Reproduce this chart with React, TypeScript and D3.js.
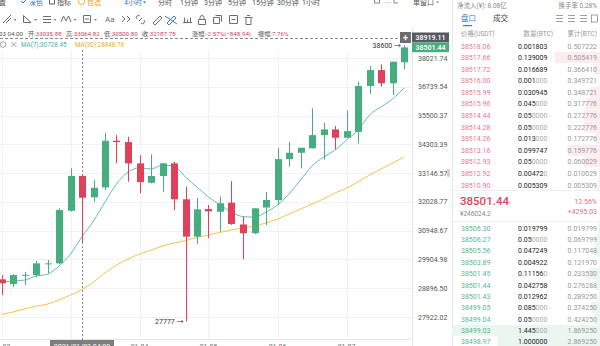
import React from 'react';
import * as d3 from 'd3';

const W = 600;
const H = 346;

// ---- candle data (4h, index 0..35) ----
const openP = [29204, 29041, 29328, 29352, 29741, 29766, 31693, 33035.88, 32205, 32586, 34450, 34397, 33534, 32768, 33032, 33534, 32128, 30728, 31757, 31655, 31998, 31178, 30853, 31815, 32101, 33703, 33960, 34140, 34683, 34918, 34573, 34818, 36775, 37478, 36893, 37827];
const highP = [29352, 29386, 29466, 29859, 29884, 31785, 33336, 33064.82, 32874, 34777, 34683, 34614, 33862, 33894, 33557, 33597, 32610, 32189, 31910, 32228, 32835, 31466, 31795, 32407, 34152, 34410, 34164, 35809, 35200, 35060, 35707, 36963, 37660, 37737, 37854, 38600];
const lowP = [28662, 28938, 29007, 29273, 29411, 29741, 31655, 30500.8, 32036, 32484, 33534, 32807, 32358, 32744, 32419, 31720, 27777, 30458, 30669, 30912, 31159, 29909, 30827, 31159, 31910, 33400, 33337, 34140, 33690, 34099, 34573, 34344, 36424, 36744, 36380, 37510];
const closeP = [29066, 29352, 29362, 29766, 29766, 31720, 33036.72, 32187.78, 32571, 34450, 34397, 33534, 32795, 33032, 33534, 32128, 30728, 31745, 31670, 31975, 31196, 30853, 31785, 32101, 33704, 33960, 34164, 34683, 34917, 34573, 34847, 36775, 37478, 36893, 37854, 38501.44];
const ma7 = [29110, 29145, 29179, 29317, 29386, 29670, 30097, 30728.45, 31307, 32025, 32716, 33190, 33348, 33309, 33467, 33427, 32993, 32598, 32216, 31910, 31643, 31471, 31452, 31643, 31910, 32331, 32874, 33427, 33784, 34070, 34479, 34888, 35526, 35864, 36205, 36687];
const ma30 = [28005, 28089, 28188, 28288, 28355, 28490, 28662, 28848.78, 29110, 29421, 29706, 29919, 30097, 30240, 30382, 30495, 30587, 30698, 30790, 30883, 30975, 31049, 31122, 31233, 31381, 31567, 31758, 31949, 32140, 32369, 32560, 32795, 33072, 33309, 33546, 33783];

const yTicks = [38021.74, 36739.54, 35500.37, 34303.39, 33146.57, 32028.77, 30948.67, 29904.98, 28896.5, 27922.02];
const dayLabels = ['01-02', '01-03', '01-04', '01-05', '01-06', '01-07'];
const dayIndex = [0, 6, 12, 18, 24, 30];
const crossIndex = 7;
const crossTime = '2021/01/03 04:00';
const crossTimeShort = '03 04:00';
const crossPrice = 38919.11;
const lastPrice = 38501.44;
const highMark = 38600;
const lowMark = 27777;
const lowMarkIndex = 16;

const periods = ['分时', '1分钟', '3分钟', '5分钟', '15分钟', '30分钟', '1小时'];

// ---- order book ----
const askPrice = ['38518.06', '38517.66', '38517.72', '38516.00', '38515.99', '38515.96', '38514.44', '38514.28', '38514.26', '38513.16', '38512.93', '38512.92', '38510.90'];
const askQty = [0.001803, 0.139009, 0.016689, 0.001, 0.030945, 0.045, 0.05, 0.05, 0.013, 0.099747, 0.05, 0.00472, 0.005309];
const askCum = ['0.507222', '0.505419', '0.366410', '0.349721', '0.348721', '0.317776', '0.272776', '0.222776', '0.172776', '0.159776', '0.060029', '0.010029', '0.005309'];
const bidPrice = ['38506.30', '38506.27', '38505.56', '38503.89', '38501.45', '38501.44', '38501.43', '38499.05', '38499.04', '38499.03', '38498.97'];
const bidQty = [0.019799, 0.05, 0.047249, 0.004922, 0.11156, 0.042758, 0.012962, 0.085, 0.05, 1.445, 1.0];
const bidCum = ['0.019799', '0.069799', '0.117048', '0.121970', '0.233530', '0.276288', '0.289250', '0.374250', '0.424250', '1.869250', '2.869250'];
const midCny = '¥246024.2';
const midPct = '12.56%';
const midChg = '+4295.03';

const UP = '#45ad7e';
const DOWN = '#e0405a';
const NUM = "Roboto, 'Noto Sans CJK SC', sans-serif";

function splitQty(q: number) {
  const s = q.toFixed(6);
  const t = s.replace(/0+$/, '');
  if (t.endsWith('.')) return [s, ''];
  return [t, s.slice(t.length)];
}

const Caret = ({ x, y, c = '#888' }: { x: number; y: number; c?: string }) => (
  <path d={`M${x},${y} l3,0 l-1.5,2 z`} fill={c} />
);

export default function App() {
  const x = d3.scaleLinear().domain([0, 35]).range([1.5, 404]);
  const y = d3.scaleLog().domain([27922.02, 38021.74]).range([317, 58]);
  const bw = 7;
  const line = d3
    .line<number>()
    .x((_, i) => x(i))
    .y((d) => y(d))
    .curve(d3.curveMonotoneX);

  const o = openP[crossIndex];
  const h = highP[crossIndex];
  const l = lowP[crossIndex];
  const c = closeP[crossIndex];
  const prev = closeP[crossIndex - 1];
  const chg = c - prev;
  const pct = (chg / prev) * 100;
  const amp = ((h - l) / prev) * 100;
  const f2 = d3.format('.2f');
  const hdrCol = chg >= 0 ? UP : DOWN;

  const askBar = d3.scaleLinear().domain([0, d3.max(askQty) as number]).range([0, 45]);
  const bidBar = d3.scaleLinear().domain([0, d3.max(bidQty) as number]).range([0, 148]);
  const askY = d3.scaleLinear().domain([0, askPrice.length - 1]).range([46, 185]);
  const bidY = d3.scaleLinear().domain([0, bidPrice.length - 1]).range([228.3, 341.7]);

  const hdrItems: [string, string, number][] = [
    ['开:', f2(o), 28],
    ['高:', f2(h), 66],
    ['低:', f2(l), 104],
    ['收:', f2(c), 142],
    ['涨幅:', `${pct.toFixed(2)}%(${f2(chg)})`, 192],
    ['振幅:', `${amp.toFixed(2)}%`, 258],
  ];

  const periodX = [158, 180, 204, 228, 252, 277, 302];
  const gray = '#6e6e6e';
  const crossX = x(crossIndex);

  return (
    <svg width={W} height={H} style={{ position: 'absolute', left: 0, top: 0, background: '#fff' }} fontFamily={NUM}>
      <defs>
        <clipPath id="plot">
          <rect x={0} y={28} width={412} height={312} />
        </clipPath>
      </defs>
      <rect x={0} y={0} width={W} height={H} fill="#fff" />

      {/* grid */}
      <g stroke="#f1f1f1" strokeWidth={1}>
        {yTicks.map((t) => (
          <line key={t} x1={0} x2={412} y1={Math.round(y(t)) + 0.5} y2={Math.round(y(t)) + 0.5} />
        ))}
        {dayIndex.map((i) => (
          <line key={i} x1={Math.round(x(i)) + 0.5} x2={Math.round(x(i)) + 0.5} y1={50} y2={339} />
        ))}
      </g>
      <line x1={412.5} x2={412.5} y1={28} y2={346} stroke="#e6e6e6" />
      <line x1={0} x2={412} y1={339.5} y2={339.5} stroke="#e6e6e6" />

      {/* y axis labels */}
      <g fontSize={7} fill="#555">
        {yTicks.map((t) => (
          <text key={t} x={418} y={y(t) + 2.5}>
            {f2(t)}
          </text>
        ))}
      </g>
      <rect x={447} y={169} width={3} height={8} rx={1} fill="#d0d0d0" />

      {/* x axis labels (cut off at the bottom edge, hidden under the crosshair badge) */}
      <g fontSize={7} fill="#777" textAnchor="middle">
        {dayIndex.map((i, k) =>
          Math.abs(x(i) - crossX) < 40 ? null : (
            <text key={i} x={x(i)} y={348.5}>
              {dayLabels[k]}
            </text>
          )
        )}
      </g>

      <g clipPath="url(#plot)">
        {/* MA lines */}
        <path d={line(ma30) || ''} fill="none" stroke="#f2c24e" strokeWidth={1} />
        <path d={line(ma7) || ''} fill="none" stroke="#62bdb6" strokeWidth={1} />

        {/* crosshair */}
        <line x1={Math.round(crossX) + 0.5} x2={Math.round(crossX) + 0.5} y1={50} y2={340} stroke="#8a8a8a" strokeDasharray="2,2" />
        <line x1={0} x2={400} y1={Math.round(y(crossPrice)) + 0.5} y2={Math.round(y(crossPrice)) + 0.5} stroke="#8a8a8a" strokeDasharray="3,2" />

        {/* candles */}
        {openP.map((op, i) => {
          const cl = closeP[i];
          const up = cl >= op;
          const col = up ? UP : DOWN;
          const cx = Math.round(x(i)) + 0.5;
          const top = y(Math.max(op, cl));
          const bot = y(Math.min(op, cl));
          return (
            <g key={i}>
              <line x1={cx} x2={cx} y1={y(highP[i])} y2={y(lowP[i])} stroke={col} strokeWidth={1} />
              <rect x={cx - bw / 2} y={top} width={bw} height={Math.max(1, bot - top)} fill={col} />
            </g>
          );
        })}
      </g>

      {/* high / low markers */}
      <text x={x(35) - 3} y={y(highMark) + 2.5} fontSize={7} fill="#333" textAnchor="end">
        {`${highMark} →`}
      </text>
      <text x={x(lowMarkIndex) - 2} y={y(lowMark) + 2.5} fontSize={7} fill="#333" textAnchor="end">
        {`${lowMark} →`}
      </text>

      {/* price badges */}
      <rect x={400} y={32} width={11} height={11} fill="#6d6d6d" />
      <text x={405.5} y={40.5} fontSize={9} fill="#fff" textAnchor="middle" fontWeight={700}>
        +
      </text>
      <rect x={412} y={32.5} width={37} height={10} fill="#555a60" />
      <text x={430.5} y={40} fontSize={7} fill="#fff" textAnchor="middle" fontWeight={600}>
        {f2(crossPrice)}
      </text>
      <rect x={412} y={y(lastPrice) - 4.8} width={37} height={9.5} fill={UP} />
      <text x={430.5} y={y(lastPrice) + 2.4} fontSize={7} fill="#fff" textAnchor="middle" fontWeight={600}>
        {f2(lastPrice)}
      </text>

      {/* crosshair time badge */}
      <rect x={crossX - 32} y={340} width={64} height={8} fill="#7d7d7d" />
      <text x={crossX} y={348.5} fontSize={7} fill="#fff" textAnchor="middle">
        {crossTime}
      </text>

      {/* ---- header row 1 (cut off) ---- */}
      <g fontSize={7}>
        <text x={-8} y={4.5} fill="#555">设置</text>
        <path d="M21,1 l2,2 l4,-4" stroke="#3a7bd5" fill="none" strokeWidth={1} />
        <text x={29} y={4.5} fill="#3a7bd5">深色</text>
        <rect x={49.5} y={-2} width={5} height={6} fill="none" stroke="#666" />
        <text x={57} y={4.5} fill="#555">指标</text>
        <circle cx={81.5} cy={1.5} r={3} fill="none" stroke="#f0a52a" />
        <text x={87} y={4.5} fill="#f0a52a">自选</text>
        <text x={124} y={4.5} fill="#3a7bd5">4小时</text>
        <Caret x={143} y={1.5} c="#3a7bd5" />
        {periods.map((p, i) => (
          <text key={p} x={periodX[i]} y={4.5} fill="#555">
            {p}
          </text>
        ))}
        <rect x={374.5} y={-2} width={5} height={5} fill="none" stroke="#888" />
        <text x={384} y={4.5} fill="#888">⋯</text>
        <path d="M394,-1 l0,4 l4,0" stroke="#888" fill="none" />
        <text x={413} y={4.5} fill="#555">单窗口</text>
        <Caret x={436} y={1.5} />
      </g>

      {/* ---- header row 2: drawing tools ---- */}
      <g stroke={gray} fill="none" strokeWidth={1}>
        <path d="M3,23 L11,15 M6,23 L11,18" />
        <path d="M23.5,15.5 L23.5,22.5 L31,22.5 Z" />
        <path d="M43,16.5 h8 M43,19.5 h8 M43,22.5 h8" />
        <path d="M61,22 L63.5,16 L66,21 L68.5,16 L71,22" />
        <path d="M83.5,15.5 h7 v7 h-7 z M85,19 h4" />
        <path d="M122,16 l3,3 l-3,3 M127,16 l3,3 l-3,3" />
        <path d="M139,21 l3,-3 M137,19 a2,2 0 0 1 3,-3 M144,20 a2,2 0 0 1 -3,3" />
        <path d="M153,23 L160,16 L162,18 L155,25 Z" />
        <path d="M167,23 L174,16 L176,18 L169,25 Z M165,16 L177,24" stroke="#3a7bd5" />
        <path d="M183,22.5 h9 M184.5,22.5 v-5 M187.5,22.5 v-3 M190.5,22.5 v-5" />
        <path d="M198.5,19.5 h7 v5 h-7 z M200,19.5 v-2 a2,2 0 0 1 4,0 v2" />
        <path d="M213.5,17.5 h6 v6 h-6 z M215.5,15.5 h6 v6" />
        <path d="M229.5,15.5 h8 v8 h-8 z M231.5,19.5 h4" />
        <path d="M244.5,17.5 h8 M246,17.5 v7 h5 v-7 M247,15.5 h3" />
      </g>
      <text x={105} y={22} fontSize={8} fill={gray}>Aa</text>
      <Caret x={13.5} y={19} />
      <Caret x={34} y={19} />
      <Caret x={53.5} y={19} />
      <Caret x={73.5} y={19} />
      <Caret x={94} y={19} />

      {/* ---- header row 3: OHLC ---- */}
      <g fontSize={6.2}>
        <text x={-1} y={35.5} fill="#555">{crossTimeShort}</text>
        {hdrItems.map(([lab, val, lx]) => (
          <text key={lab} x={lx} y={35.5} fill="#555">
            {lab}
            <tspan fill={hdrCol}>{val}</tspan>
          </text>
        ))}
      </g>

      {/* ---- header row 4: MA legend ---- */}
      <circle cx={3} cy={44.5} r={2.8} fill="none" stroke="#888" strokeWidth={0.8} />
      <path d="M11.5,42 l5,5 M16.5,42 l-5,5" stroke="#888" strokeWidth={0.8} />
      <text x={21} y={47} fontSize={6.3} fill="#3fb6aa">{`MA(7):${f2(ma7[crossIndex])}`}</text>
      <text x={75} y={47} fontSize={6.3} fill="#eaa92a">{`MA(30):${f2(ma30[crossIndex])}`}</text>

      {/* ---- right panel ---- */}
      <line x1={452.5} x2={452.5} y1={0} y2={H} stroke="#e8e8e8" />
      <g fontSize={6.5} fill="#888">
        <text x={457} y={7.5}>净流入(¥): 8.08亿</text>
        <text x={597} y={7.5} textAnchor="end">换手率 0.28%</text>
      </g>
      <text x={461} y={21} fontSize={7.5} fill="#3a7bd5">盘口</text>
      <rect x={463} y={25} width={9} height={1.2} fill="#3a7bd5" />
      <text x={493} y={21} fontSize={7.5} fill="#444">成交</text>
      <g stroke="#888" strokeWidth={0.8}>
        {[556, 568, 580].map((ix) => (
          <path key={ix} d={`M${ix},15.5 h7 M${ix},18.5 h7 M${ix},21.5 h7`} />
        ))}
        <rect x={591.5} y={15} width={6} height={7} fill="none" />
      </g>
      <g fontSize={6.5} fill="#999">
        <text x={461} y={35.5}>价格(USDT)</text>
        <text x={553} y={35.5} textAnchor="end">数量(BTC)</text>
        <text x={597} y={35.5} textAnchor="end">累计(BTC)</text>
      </g>

      {/* asks */}
      {askPrice.map((p, i) => {
        const cy = askY(i);
        const [a, b] = splitQty(askQty[i]);
        const w = askBar(askQty[i]);
        return (
          <g key={p + i} fontSize={7}>
            <rect x={600 - w} y={cy - 5.5} width={w} height={11} fill="#fdecef" />
            <text x={461} y={cy + 2.5} fill="#e8788c">{p}</text>
            <text x={518} y={cy + 2.5} fill="#222">
              {a}
              <tspan fill="#aaa">{b}</tspan>
            </text>
            <text x={597} y={cy + 2.5} fill="#999" textAnchor="end">{askCum[i]}</text>
          </g>
        );
      })}

      {/* mid */}
      <line x1={453} x2={600} y1={190.5} y2={190.5} stroke="#eeeeee" />
      <line x1={453} x2={600} y1={221.5} y2={221.5} stroke="#eeeeee" />
      <text x={460} y={205} fontSize={11.5} fontWeight={500} fill="#e0435c">{f2(lastPrice)}</text>
      <text x={460} y={215.5} fontSize={6.5} fill="#888">{midCny}</text>
      <text x={597} y={203.5} fontSize={7} fill="#d77586" textAnchor="end">{midPct}</text>
      <text x={597} y={214} fontSize={7} fill="#d77586" textAnchor="end">{midChg}</text>

      {/* bids */}
      {bidPrice.map((p, i) => {
        const cy = bidY(i);
        const [a, b] = splitQty(bidQty[i]);
        const w = bidBar(bidQty[i]);
        return (
          <g key={p + i} fontSize={7}>
            <rect x={600 - w} y={cy - 5.5} width={w} height={11} fill="#eaf6f0" />
            <text x={461} y={cy + 2.5} fill="#56b88f">{p}</text>
            <text x={518} y={cy + 2.5} fill="#222">
              {a}
              <tspan fill="#aaa">{b}</tspan>
            </text>
            <text x={597} y={cy + 2.5} fill="#999" textAnchor="end">{bidCum[i]}</text>
          </g>
        );
      })}
    </svg>
  );
}
